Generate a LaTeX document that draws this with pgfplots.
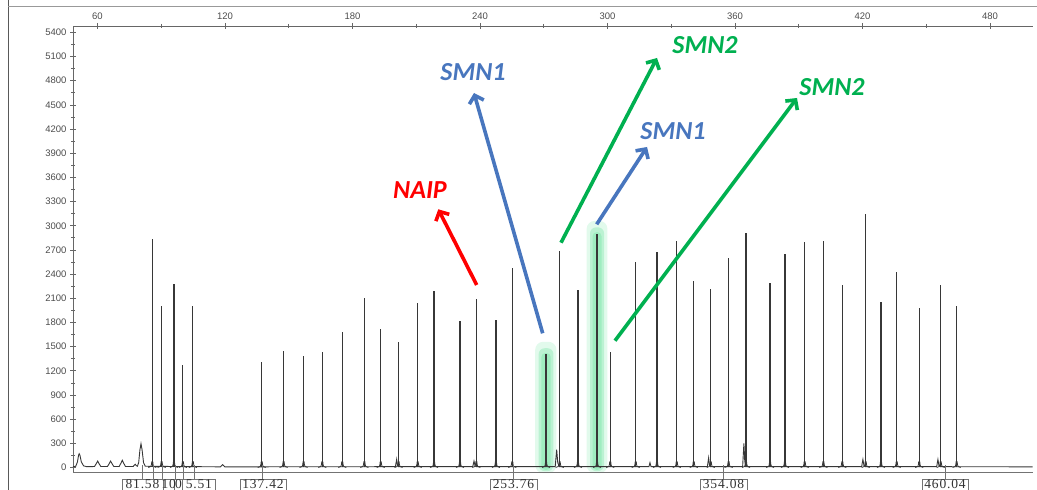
\documentclass[border=0pt]{standalone}
\usepackage{pgfplots}
\pgfplotsset{compat=1.18}
\usepackage{pgfplotstable}
\usepackage{fontspec}
\setmainfont{Liberation Sans}
\newfontfamily\serifx[LetterSpace=6]{Liberation Serif}
\newfontfamily\calib{Carlito}
\usetikzlibrary{arrows.meta}

\definecolor{peak}{RGB}{55,55,55}
\definecolor{glow}{RGB}{95,225,150}
\definecolor{smnblue}{RGB}{72,118,190}
\definecolor{smngreen}{RGB}{0,176,80}
\definecolor{naipred}{RGB}{255,0,0}

\pgfdeclareplotmark{foot}{%
  \pgfpathmoveto{\pgfqpoint{-4pt}{0pt}}%
  \pgfpathcurveto{\pgfqpoint{-1.5pt}{0pt}}{\pgfqpoint{-0.9pt}{0.6pt}}{\pgfqpoint{-0.5pt}{6pt}}%
  \pgfpathmoveto{\pgfqpoint{4pt}{0pt}}%
  \pgfpathcurveto{\pgfqpoint{1.5pt}{0pt}}{\pgfqpoint{0.9pt}{0.6pt}}{\pgfqpoint{0.5pt}{6pt}}%
  \pgfusepathqstroke}

% main peaks: size (bp) and height (RFU)
\pgfplotstableread{
s h
85.8 2830
90.2 2005
96.0 2280
100.2 1275
104.9 2005
137.3 1310
147.6 1445
157.0 1385
165.8 1435
175.2 1685
185.6 2105
193.3 1715
201.7 1560
210.7 2040
218.4 2190
230.6 1820
238.3 2090
247.5 1825
255.2 2470
271.1 1405
277.5 2690
286.1 2205
295.1 2895
301.3 1435
313.3 2555
323.3 2675
332.6 2810
340.6 2310
348.6 2215
357.0 2605
365.2 2905
376.5 2285
383.5 2650
392.8 2800
401.6 2810
410.5 2260
421.5 3140
428.7 2050
436.1 2425
446.7 1975
456.8 2270
464.3 2005
}\peaks

\begin{document}
\begin{tikzpicture}
\useasboundingbox (0pt,0pt) rectangle (1037pt,490pt);
\begin{axis}[
  at={(73pt,18pt)}, anchor=south west,
  scale only axis, width=959.5pt, height=446pt,
  xmin=48.5, xmax=500, ymin=-56, ymax=5479,
  axis x line*=top, axis y line*=left,
  axis line style={-, draw=black!60, line width=0.8pt},
  xtick={60,120,...,480}, minor x tick num=1,
  ytick={0,300,...,5400}, minor y tick num=1,
  tick align=center,
  major tick length=6pt, minor tick length=4pt,
  tick style={draw=black!60, line width=0.7pt},
  ticklabel style={font=\fontsize{9.5}{11}\selectfont, text=black!70},
  /pgf/number format/assume math mode=true,
  /pgf/number format/1000 sep={},
  clip=false,
]
% highlight glows
\fill[glow, opacity=0.18, rounded corners=8pt] (axis cs:266.0,-70) rectangle (axis cs:276.0,1560);
\fill[glow, opacity=0.3, rounded corners=6pt] (axis cs:267.6,-45) rectangle (axis cs:274.6,1480);
\fill[glow, opacity=0.3, rounded corners=4pt] (axis cs:268.9,-30) rectangle (axis cs:273.3,1420);
\fill[glow, opacity=0.18, rounded corners=8pt] (axis cs:290.2,-70) rectangle (axis cs:300.0,3060);
\fill[glow, opacity=0.3, rounded corners=6pt] (axis cs:291.8,-45) rectangle (axis cs:298.4,2980);
\fill[glow, opacity=0.3, rounded corners=4pt] (axis cs:293.0,-30) rectangle (axis cs:297.2,2920);
% baseline with small peaks
\addplot[peak, line width=0.9pt] coordinates {
(48.5,10)(49.8,15)(50.6,70)(51.1,150)(51.4,170)(51.8,150)(52.4,70)(53.5,20)(55,10)
(58.6,12)(59.5,50)(60.1,80)(60.7,50)(61.6,12)
(64.7,12)(65.6,50)(66.2,80)(66.8,50)(67.7,12)
(70.2,12)(71.1,55)(71.7,90)(72.3,55)(73.2,12)
(76.8,12)(77.4,30)(77.8,40)(78.2,25)(78.8,15)
(79.4,60)(80.0,220)(80.5,295)(81.0,220)(81.7,60)(82.5,15)
(117.9,8)(118.5,25)(118.9,35)(119.3,25)(119.9,8)
(200.2,10)(200.8,100)(201.2,20)(201.6,10)
(236.6,10)(237.2,80)(237.7,20)(238.2,10)
(275.4,10)(276.1,220)(276.6,60)(277.3,10)
(319.5,10)(320.0,60)(320.5,10)
(347.0,10)(347.6,120)(348.0,30)(348.5,10)
(363.6,10)(364.2,300)(364.6,80)(365.1,10)
(419.6,10)(420.2,100)(420.7,20)(421.4,10)
(454.9,10)(455.5,100)(456.0,20)(456.7,10)
(500,8)};
% main peaks
\addplot[ycomb, peak, line width=1.2pt] table[x=s, y=h] {\peaks};
\addplot[only marks, mark=foot, peak, mark options={line width=0.8pt}] table[x=s, y expr=0] {\peaks};
\end{axis}

\begin{scope}[x=1pt, y=1pt]
% outer frame
\draw[black!65, line width=0.9pt] (8,490) -- (8,0);
\draw[black!40, line width=0.8pt] (8,484) -- (1037,484);
% bottom line and size markers
\draw[black!55, line width=0.8pt] (73,18) -- (1032.5,18);
\foreach \t in {142,153,162,175,183,194,262.3,513,723,945}
  \draw[black!55, line width=0.6pt] (\t,11) -- (\t,25);
\tikzset{sz/.style={font=\serifx\fontsize{13.5}{14}\selectfont, text=black!80, anchor=base, inner sep=0pt}}
\draw[black!55, line width=0.6pt, fill=white] (122,-6) rectangle (215,11);
\draw[black!55, line width=0.6pt] (163,-6) -- (163,11) (174.5,-6) -- (174.5,11) (182.5,-6) -- (182.5,11);
\node[sz] at (142.5,1) {81.58};
\node[sz] at (168.8,1) {10};
\node[sz] at (178.5,1) {0};
\node[sz] at (198.8,1) {5.51};
\draw[black!55, line width=0.6pt, fill=white] (240,-6) rectangle (286,11);
\node[sz] at (263,1) {137.42};
\draw[black!55, line width=0.6pt, fill=white] (490,-6) rectangle (537,11);
\node[sz] at (513.5,1) {253.76};
\draw[black!55, line width=0.6pt, fill=white] (700,-6) rectangle (747,11);
\node[sz] at (723.5,1) {354.08};
\draw[black!55, line width=0.6pt, fill=white] (922,-6) rectangle (968,11);
\node[sz] at (945,1) {460.04};
% arrows
\tikzset{arr/.style={line width=3.6pt, -{Straight Barb[length=7pt, width=15pt]}}}
\draw[arr, naipred] (476.7,205) -- (438.3,280.7);
\draw[arr, smnblue] (542.7,156.7) -- (474,397);
\draw[arr, smngreen] (561,247.3) -- (657,432);
\draw[arr, smnblue] (596.7,265.7) -- (647,343);
\draw[arr, smngreen] (615,149.3) -- (797,392);
% labels
\tikzset{lab/.style={font=\calib\bfseries\itshape\fontsize{26}{28}\selectfont, inner sep=0pt}}
\node[lab, text=naipred] at (420,300) {NAIP};
\node[lab, text=smnblue] at (473,418) {SMN1};
\node[lab, text=smngreen] at (705,445) {SMN2};
\node[lab, text=smnblue] at (673,359) {SMN1};
\node[lab, text=smngreen] at (832,403) {SMN2};
\end{scope}
\end{tikzpicture}
\end{document}
